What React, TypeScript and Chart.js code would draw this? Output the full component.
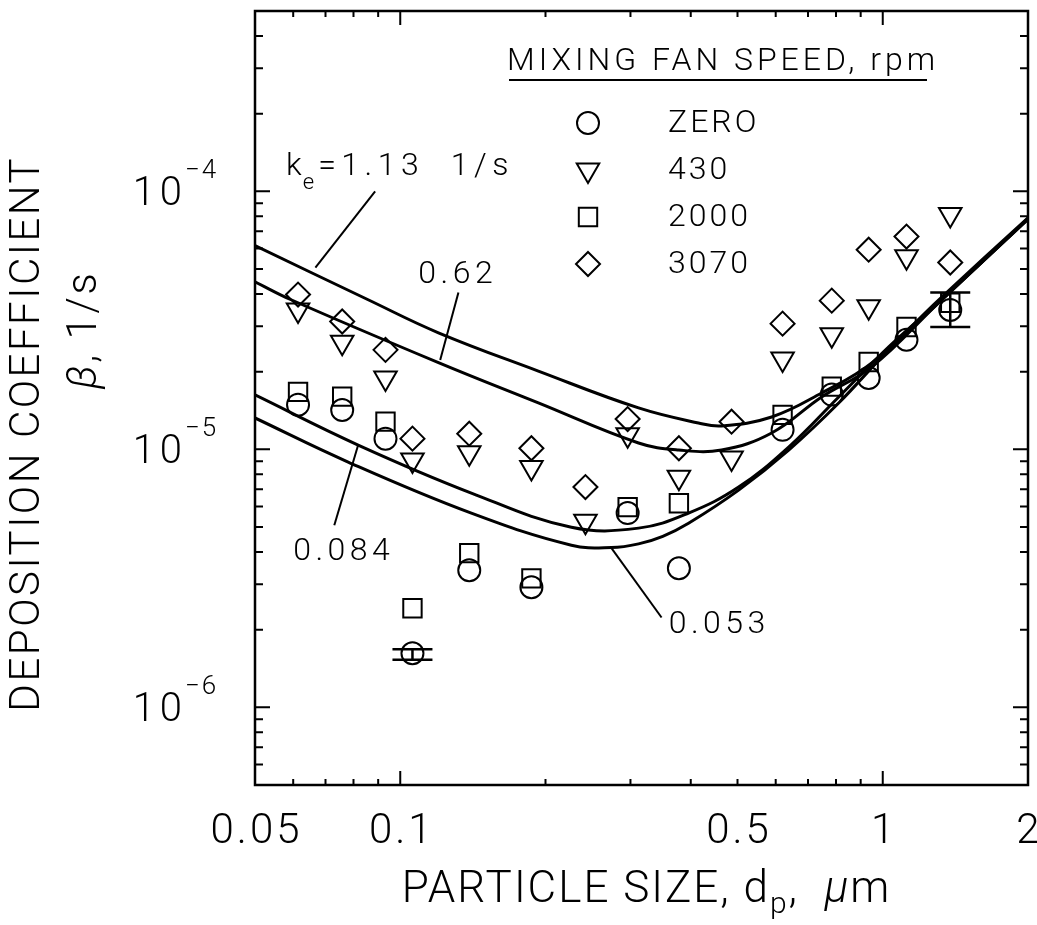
import React, { useEffect, useRef } from "react";
import { Chart, registerables } from "chart.js";

Chart.register(...registerables);

// ---------- data ----------
const particleSizes = [0.0614, 0.0758, 0.0932, 0.106, 0.139, 0.187, 0.242, 0.296, 0.378, 0.486, 0.62, 0.784, 0.935, 1.12, 1.38];
const betaZero = [1.49e-5, 1.42e-5, 1.1e-5, 1.62e-6, 3.4e-6, 2.92e-6, null, 5.66e-6, 3.46e-6, null, 1.19e-5, 1.63e-5, 1.89e-5, 2.66e-5, 3.47e-5];
const beta430 = [3.47e-5, 2.6e-5, 1.89e-5, 9.1e-6, 9.7e-6, 8.5e-6, 5.26e-6, 1.14e-5, 7.8e-6, 9.25e-6, 2.24e-5, 2.78e-5, 3.57e-5, 5.58e-5, 8.14e-5];
const beta2000 = [1.67e-5, 1.6e-5, 1.28e-5, 2.42e-6, 3.96e-6, 3.16e-6, null, 5.97e-6, 6.18e-6, null, 1.36e-5, 1.75e-5, 2.18e-5, 2.98e-5, 3.7e-5];
const beta3070 = [3.98e-5, 3.13e-5, 2.43e-5, 1.1e-5, 1.15e-5, 1.01e-5, 7.14e-6, 1.31e-5, 1.01e-5, 1.28e-5, 3.07e-5, 3.77e-5, 5.94e-5, 6.68e-5, 5.3e-5];

const errorBarX = [0.106, 1.38];
const errorBarLow = [1.53e-6, 2.98e-5];
const errorBarHigh = [1.68e-6, 4.05e-5];

const curveX113 = [0.05, 0.0858, 0.12, 0.1933, 0.3118, 0.415, 0.4634, 0.5885, 0.747, 0.9488, 1.3067, 2.0];
const curveY113 = [6.16e-5, 3.8e-5, 2.83e-5, 2.01e-5, 1.447e-5, 1.265e-5, 1.232e-5, 1.335e-5, 1.654e-5, 2.163e-5, 3.8e-5, 7.9e-5];
const curveX062 = [0.05, 0.0594, 0.12, 0.1933, 0.3118, 0.3774, 0.4634, 0.5885, 0.747, 0.9488, 1.3067, 2.0];
const curveY062 = [4.46e-5, 3.8e-5, 2.168e-5, 1.513e-5, 1.058e-5, 9.94e-6, 9.94e-6, 1.157e-5, 1.596e-5, 2.088e-5, 3.7e-5, 7.85e-5];
const curveX0084 = [0.05, 0.0818, 0.1404, 0.2263, 0.3118, 0.3958, 0.5027, 0.6383, 0.8105, 1.029, 1.3067, 2.0];
const curveY0084 = [1.625e-5, 1.039e-5, 6.77e-6, 4.99e-6, 4.95e-6, 5.66e-6, 7.14e-6, 1.021e-5, 1.596e-5, 2.496e-5, 3.73e-5, 7.8e-5];
const curveX0053 = [0.05, 0.078, 0.1404, 0.2263, 0.2741, 0.3118, 0.35, 0.3958, 0.5027, 0.6383, 0.8105, 1.029, 1.3067, 2.0];
const curveY0053 = [1.323e-5, 8.93e-6, 5.66e-6, 4.25e-6, 4.16e-6, 4.3e-6, 4.6e-6, 5.17e-6, 6.95e-6, 9.94e-6, 1.513e-5, 2.43e-5, 3.7e-5, 7.8e-5];

const xTickValues = [0.05, 0.1, 0.5, 1, 2];
const xTickLabels = ["0.05", "0.1", "0.5", "1", "2"];
const yTickValues = [1e-6, 1e-5, 1e-4];
const yTickExponents = ["\u22126", "\u22125", "\u22124"];

const legendTitle = "MIXING FAN SPEED, rpm";
const legendLabels = ["ZERO", "430", "2000", "3070"];
const legendShapes = ["circle", "triangle", "rect", "rectRot"];

// curve labels: text anchor (data coords) and leader line ends (data coords)
const curveLabelTexts = ["0.62", "0.084", "0.053"];
const curveLabelX = [0.109, 0.06, 0.36];
const curveLabelY = [4.43e-5, 3.72e-6, 1.95e-6];
const leaderX1 = [0.0887, 0.132, 0.0818, 0.274];
const leaderY1 = [1.0e-4, 4.05e-5, 1.04e-5, 4.14e-6];
const leaderX2 = [0.0667, 0.121, 0.073, 0.348];
const leaderY2 = [5.06e-5, 2.22e-5, 5.08e-6, 2.23e-6];
const keLabelX = 0.058;
const keLabelY = 1.162e-4;

const FONT = 'Roboto, "Liberation Sans", sans-serif';
const W = 300;

function zip(xs: number[], ys: (number | null)[]) {
  const out: { x: number; y: number }[] = [];
  xs.forEach((x, i) => {
    const y = ys[i];
    if (y !== null && y !== undefined) out.push({ x, y });
  });
  return out;
}

function drawShape(ctx: CanvasRenderingContext2D, shape: string, x: number, y: number, r: number) {
  ctx.beginPath();
  if (shape === "circle") {
    ctx.arc(x, y, r, 0, Math.PI * 2);
  } else if (shape === "triangle") {
    for (let k = 0; k < 3; k++) {
      const a = Math.PI + (k * 2 * Math.PI) / 3;
      const px = x + Math.sin(a) * r;
      const py = y - Math.cos(a) * r;
      if (k === 0) ctx.moveTo(px, py);
      else ctx.lineTo(px, py);
    }
    ctx.closePath();
  } else if (shape === "rect") {
    const s = Math.SQRT1_2 * r;
    ctx.rect(x - s, y - s, 2 * s, 2 * s);
  } else {
    ctx.moveTo(x, y - r);
    ctx.lineTo(x + r, y);
    ctx.lineTo(x, y + r);
    ctx.lineTo(x - r, y);
    ctx.closePath();
  }
  ctx.stroke();
}

function setSpacing(ctx: any, px: number) {
  if ("letterSpacing" in ctx) ctx.letterSpacing = `${px}px`;
}

const overlayPlugin = {
  id: "overlay",
  afterDraw(chart: any) {
    const ctx: any = chart.ctx;
    const { left, right, top, bottom } = chart.chartArea;
    const xs = chart.scales.x;
    const ys = chart.scales.y;
    ctx.save();
    ctx.strokeStyle = "#000";
    ctx.fillStyle = "#000";

    // frame
    ctx.lineWidth = 2.5;
    ctx.strokeRect(left, top, right - left, bottom - top);

    // ticks
    ctx.lineWidth = 2;
    for (let d = -2; d <= 0; d++) {
      for (let m = 1; m <= 9; m++) {
        const v = m * Math.pow(10, d);
        if (v <= 0.0500001 || v >= 1.99999) continue;
        const px = xs.getPixelForValue(v);
        const len = m === 1 ? 14 : 6;
        ctx.beginPath();
        ctx.moveTo(px, bottom);
        ctx.lineTo(px, bottom - len);
        ctx.moveTo(px, top);
        ctx.lineTo(px, top + len);
        ctx.stroke();
      }
    }
    for (let d = -7; d <= -4; d++) {
      for (let m = 1; m <= 9; m++) {
        const v = m * Math.pow(10, d);
        if (v <= 5.00001e-7 || v >= 4.9999e-4) continue;
        const py = ys.getPixelForValue(v);
        const len = m === 1 ? 15 : 8;
        ctx.beginPath();
        ctx.moveTo(left, py);
        ctx.lineTo(left + len, py);
        ctx.moveTo(right, py);
        ctx.lineTo(right - len, py);
        ctx.stroke();
      }
    }

    // x tick labels
    ctx.font = `${W} 42px ${FONT}`;
    setSpacing(ctx, 3);
    ctx.textAlign = "left";
    ctx.textBaseline = "alphabetic";
    xTickValues.forEach((v, i) => {
      const t = xTickLabels[i];
      const w = ctx.measureText(t).width - 3;
      ctx.fillText(t, xs.getPixelForValue(v) - w / 2, bottom + 58);
    });

    // y tick labels
    yTickValues.forEach((v, i) => {
      const py = ys.getPixelForValue(v);
      ctx.font = `${W} 40px ${FONT}`;
      setSpacing(ctx, 5);
      ctx.textAlign = "left";
      const w = ctx.measureText("10").width - 5;
      ctx.fillText("10", left - 73 - w, py + 14);
      ctx.font = `${W} 26px ${FONT}`;
      setSpacing(ctx, 2);
      ctx.fillText(yTickExponents[i], left - 70, py - 13);
    });

    // x axis title
    {
      const big = `${W} 44px ${FONT}`;
      const small = `${W} 30px ${FONT}`;
      const ital = `italic ${W} 44px ${FONT}`;
      setSpacing(ctx, 2);
      const parts: [string, string, number][] = [
        ["PARTICLE SIZE, d", big, 0],
        ["p", small, 11],
        [",  ", big, 0],
        ["\u03bc", ital, 0],
        ["m", big, 0],
      ];
      let total = 0;
      parts.forEach(([t, f]) => {
        ctx.font = f;
        total += ctx.measureText(t).width;
      });
      let cx = (left + right) / 2 + 5 - total / 2;
      ctx.textAlign = "left";
      parts.forEach(([t, f, dy]) => {
        ctx.font = f;
        ctx.fillText(t, cx, bottom + 117 + dy);
        cx += ctx.measureText(t).width;
      });
    }

    // y axis title
    ctx.save();
    ctx.translate(left - 227, top + 424);
    ctx.rotate(-Math.PI / 2);
    ctx.font = `${W} 42px ${FONT}`;
    setSpacing(ctx, 2.5);
    ctx.textAlign = "left";
    ctx.textBaseline = "middle";
    {
      const w = ctx.measureText("DEPOSITION COEFFICIENT").width - 2.5;
      ctx.fillText("DEPOSITION COEFFICIENT", -w / 2, 0);
    }
    ctx.restore();

    ctx.save();
    ctx.translate(left - 170, top + 319);
    ctx.rotate(-Math.PI / 2);
    ctx.textBaseline = "middle";
    setSpacing(ctx, 2.5);
    {
      const parts: [string, string][] = [
        ["\u03b2", `italic ${W} 42px ${FONT}`],
        [", 1/s", `${W} 42px ${FONT}`],
      ];
      let total = 0;
      parts.forEach(([t, f]) => {
        ctx.font = f;
        total += ctx.measureText(t).width;
      });
      let cx = -total / 2;
      ctx.textAlign = "left";
      parts.forEach(([t, f]) => {
        ctx.font = f;
        ctx.fillText(t, cx, 0);
        cx += ctx.measureText(t).width;
      });
    }
    ctx.restore();

    // legend
    ctx.font = `${W} 32px ${FONT}`;
    setSpacing(ctx, 4);
    ctx.textAlign = "left";
    ctx.textBaseline = "alphabetic";
    const lgX = left + 252;
    const lgTop = top + 59;
    ctx.fillText(legendTitle, lgX, lgTop);
    ctx.lineWidth = 2;
    ctx.beginPath();
    ctx.moveTo(lgX + 2, lgTop + 10);
    ctx.lineTo(lgX + 420, lgTop + 10);
    ctx.stroke();
    const radii = [11, 13, 13, 12];
    setSpacing(ctx, 3);
    legendLabels.forEach((lab, i) => {
      const ry = top + 112 + i * 47;
      ctx.lineWidth = 2;
      drawShape(ctx, legendShapes[i], left + 333, ry, radii[i]);
      ctx.textBaseline = "middle";
      ctx.fillText(lab, left + 413, ry + 1);
    });
    ctx.textBaseline = "alphabetic";

    // leader lines
    ctx.lineWidth = 2;
    leaderX1.forEach((x1, i) => {
      ctx.beginPath();
      ctx.moveTo(xs.getPixelForValue(x1), ys.getPixelForValue(leaderY1[i]));
      ctx.lineTo(xs.getPixelForValue(leaderX2[i]), ys.getPixelForValue(leaderY2[i]));
      ctx.stroke();
    });

    // curve labels
    ctx.font = `${W} 32px ${FONT}`;
    setSpacing(ctx, 4.5);
    curveLabelTexts.forEach((t, i) => {
      ctx.fillText(t, xs.getPixelForValue(curveLabelX[i]), ys.getPixelForValue(curveLabelY[i]));
    });
    {
      let kx = xs.getPixelForValue(keLabelX);
      const ky = ys.getPixelForValue(keLabelY);
      ctx.font = `${W} 32px ${FONT}`;
      setSpacing(ctx, 0);
      ctx.fillText("k", kx, ky);
      kx += ctx.measureText("k").width + 1;
      ctx.font = `${W} 22px ${FONT}`;
      ctx.fillText("e", kx, ky + 14);
      kx += ctx.measureText("e").width + 4;
      ctx.font = `${W} 32px ${FONT}`;
      setSpacing(ctx, 5.5);
      ctx.fillText("=1.13  1/s", kx, ky);
    }
    setSpacing(ctx, 0);

    // error bars
    ctx.lineWidth = 2.5;
    errorBarX.forEach((x, i) => {
      const px = xs.getPixelForValue(x);
      const lo = ys.getPixelForValue(errorBarLow[i]);
      const hi = ys.getPixelForValue(errorBarHigh[i]);
      ctx.beginPath();
      ctx.moveTo(px, lo);
      ctx.lineTo(px, hi);
      ctx.moveTo(px - 20, lo);
      ctx.lineTo(px + 20, lo);
      ctx.moveTo(px - 20, hi);
      ctx.lineTo(px + 20, hi);
      ctx.stroke();
    });

    ctx.restore();
  },
};

export default function App() {
  const ref = useRef<HTMLCanvasElement | null>(null);
  useEffect(() => {
    if (!ref.current) return;
    const curveStyle = {
      type: "line" as const,
      showLine: true,
      borderColor: "#000",
      borderWidth: 3,
      pointRadius: 0,
      fill: false,
      tension: 0.4,
    };
    const markerStyle = {
      type: "scatter" as const,
      showLine: false,
      borderColor: "#000",
      backgroundColor: "rgba(0,0,0,0)",
      pointBorderWidth: 2,
    };
    const chart = new Chart(ref.current, {
      type: "scatter",
      data: {
        datasets: [
          { ...curveStyle, label: "1.13", data: zip(curveX113, curveY113) },
          { ...curveStyle, label: "0.62", data: zip(curveX062, curveY062) },
          { ...curveStyle, label: "0.084", data: zip(curveX0084, curveY0084) },
          { ...curveStyle, label: "0.053", data: zip(curveX0053, curveY0053) },
          { ...markerStyle, label: "ZERO", data: zip(particleSizes, betaZero), pointStyle: "circle", pointRadius: 11 },
          { ...markerStyle, label: "430", data: zip(particleSizes, beta430), pointStyle: "triangle", pointRotation: 180, pointRadius: 13 },
          { ...markerStyle, label: "2000", data: zip(particleSizes, beta2000), pointStyle: "rect", pointRadius: 13 },
          { ...markerStyle, label: "3070", data: zip(particleSizes, beta3070), pointStyle: "rectRot", pointRadius: 12 },
        ] as any,
      },
      options: {
        responsive: false,
        animation: false,
        devicePixelRatio: 1,
        layout: { autoPadding: false, padding: { left: 255, right: 9, top: 11, bottom: 140 } },
        plugins: { legend: { display: false }, tooltip: { enabled: false } },
        scales: {
          x: { type: "logarithmic", min: 0.05, max: 2, display: false },
          y: { type: "logarithmic", min: 5e-7, max: 5e-4, display: false },
        },
      } as any,
      plugins: [overlayPlugin],
    });
    return () => chart.destroy();
  }, []);
  return (
    <div style={{ position: "fixed", left: 0, top: 0, width: 1037, height: 925, background: "#fff" }}>
      <canvas ref={ref} width={1037} height={925} style={{ display: "block", width: 1037, height: 925 }} />
    </div>
  );
}
